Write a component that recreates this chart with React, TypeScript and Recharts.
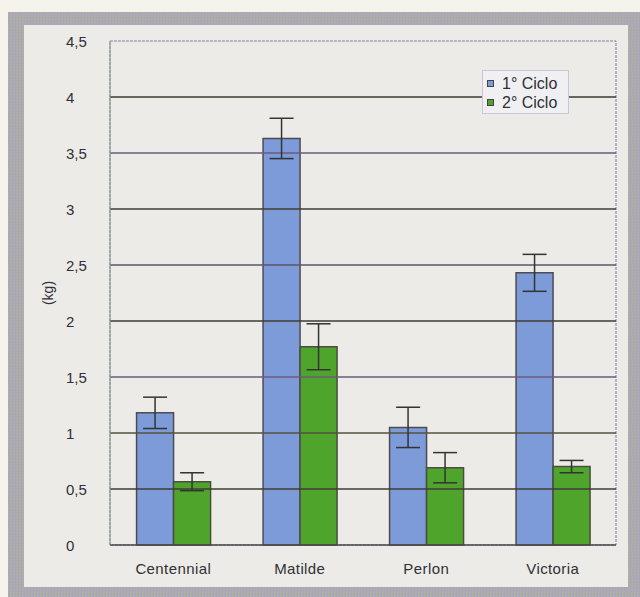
import React from 'react';
import {
  BarChart, Bar, XAxis, YAxis, ErrorBar, ReferenceLine, ReferenceArea, Legend,
} from 'recharts';

// ---- data ----
const categories = ['Centennial', 'Matilde', 'Perlon', 'Victoria'];
const ciclo1 = [1.18, 3.63, 1.05, 2.43];
const ciclo1Err = [0.14, 0.18, 0.18, 0.165];
const ciclo2 = [0.565, 1.77, 0.69, 0.70];
const ciclo2Err = [0.08, 0.205, 0.135, 0.055];
const seriesNames = ['1° Ciclo', '2° Ciclo'];
const yTicks = [0, 0.5, 1, 1.5, 2, 2.5, 3, 3.5, 4, 4.5];
const yTickLabels = ['0', '0,5', '1', '1,5', '2', '2,5', '3', '3,5', '4', '4,5'];
const gridLevels = [0.5, 1, 1.5, 2, 2.5, 3, 3.5, 4];
const yLabel = '(kg)';

// ---- styles ----
const gridColors = ['#3f3d33', '#55523c', '#6e5a7c', '#3f3d30', '#5e5468', '#3f3d33', '#6e5a7c', '#3c3a2c'];
const BLUE = '#7c9bd8';
const GREEN = '#4fa52c';
const FONT = '"Liberation Sans", Arial, sans-serif';
const TEXT = '#303036';

const data = categories.map((c, i) => ({
  name: c,
  c1: ciclo1[i],
  e1: ciclo1Err[i],
  c2: ciclo2[i],
  e2: ciclo2Err[i],
}));

const YTick = (props: any) => {
  const { x, y, payload } = props;
  const idx = yTicks.indexOf(payload.value);
  return (
    <text x={x} y={y} textAnchor="start" dominantBaseline="central"
      fontFamily={FONT} fontSize={15} fill={TEXT}>
      {idx >= 0 ? yTickLabels[idx] : String(payload.value)}
    </text>
  );
};

const XTick = (props: any) => {
  const { x, y, payload } = props;
  return (
    <text x={x} y={y} textAnchor="middle" dominantBaseline="hanging"
      fontFamily={FONT} fontSize={15} fill={TEXT} letterSpacing={0.4}>
      {payload.value}
    </text>
  );
};

const YLabel = (props: any) => {
  const { viewBox } = props;
  const cx = viewBox.x + 18;
  const cy = viewBox.y + viewBox.height / 2;
  return (
    <text x={cx} y={cy} transform={`rotate(-90, ${cx}, ${cy})`} textAnchor="middle"
      dominantBaseline="central" fontFamily={FONT} fontSize={14} fill={TEXT}>
      {yLabel}
    </text>
  );
};

const LegendBox = () => {
  const colors = [BLUE, GREEN];
  return (
    <div style={{
      width: 87, height: 44, boxSizing: 'border-box', background: '#f0eff1',
      border: '1px solid #cdc4d6', padding: '3px 0 0 4px', fontFamily: FONT,
      fontSize: 16, color: TEXT,
    }}>
      {seriesNames.map((n, i) => (
        <div key={n} style={{ display: 'flex', alignItems: 'center', height: 19 }}>
          <span style={{
            display: 'inline-block', width: 5, height: 5, background: colors[i],
            border: '1px solid #444', marginRight: 8,
          }} />
          <span>{n}</span>
        </div>
      ))}
    </div>
  );
};

export default function App() {
  return (
    <div style={{ position: 'absolute', left: 0, top: 0, width: 640, height: 597, background: '#f5f3ec', overflow: 'hidden' }}>
      <div style={{
        position: 'absolute', left: 8, top: 12, width: 640, height: 585,
        background: 'repeating-conic-gradient(#a8a3c8 0 25%, #b3b28f 0 50%) 0 0 / 3px 3px',
      }} />
      <div style={{ position: 'absolute', left: 24, top: 25, width: 604, height: 562, background: '#ecebe7' }} />
      <div style={{ position: 'absolute', left: 0, top: 0 }}>
        <BarChart
          width={640}
          height={597}
          data={data}
          margin={{ top: 41, right: 24, bottom: 22, left: 30 }}
          barGap={0}
          barCategoryGap="21%"
        >
          <ReferenceArea y1={0} y2={4.5} fill="none" stroke="#8a78a6" strokeDasharray="3 1" strokeWidth={1} ifOverflow="visible" />
          {gridLevels.map((lv, i) => (
            <ReferenceLine key={lv} y={lv} stroke={gridColors[i]} strokeWidth={1.3} />
          ))}
          <XAxis
            dataKey="name"
            height={30}
            tickLine={false}
            tickSize={6}
            tickMargin={12}
            axisLine={{ stroke: '#4a4a48', strokeWidth: 1.3 }}
            tick={<XTick />}
            interval={0}
          />
          <YAxis
            width={80}
            domain={[0, 4.5]}
            ticks={yTicks}
            interval={0}
            tickLine={false}
            tickSize={22}
            tickMargin={22}
            axisLine={{ stroke: '#7f9e8a', strokeWidth: 1 }}
            tick={<YTick />}
            label={<YLabel />}
          />
          <Legend
            layout="horizontal"
            verticalAlign="middle"
            align="center"
            content={<LegendBox />}
            wrapperStyle={{ position: 'absolute', left: 482, top: 70, width: 87, height: 44, margin: 0 }}
          />
          <Bar dataKey="c1" name={seriesNames[0]} fill={BLUE} stroke="#4c4c50" strokeWidth={1.5} isAnimationActive={false}>
            <ErrorBar dataKey="e1" width={12} stroke="#333" strokeWidth={1.5} direction="y" isAnimationActive={false} />
          </Bar>
          <Bar dataKey="c2" name={seriesNames[1]} fill={GREEN} stroke="#4c4c40" strokeWidth={1.5} isAnimationActive={false}>
            <ErrorBar dataKey="e2" width={12} stroke="#333" strokeWidth={1.5} direction="y" isAnimationActive={false} />
          </Bar>
        </BarChart>
      </div>
    </div>
  );
}
